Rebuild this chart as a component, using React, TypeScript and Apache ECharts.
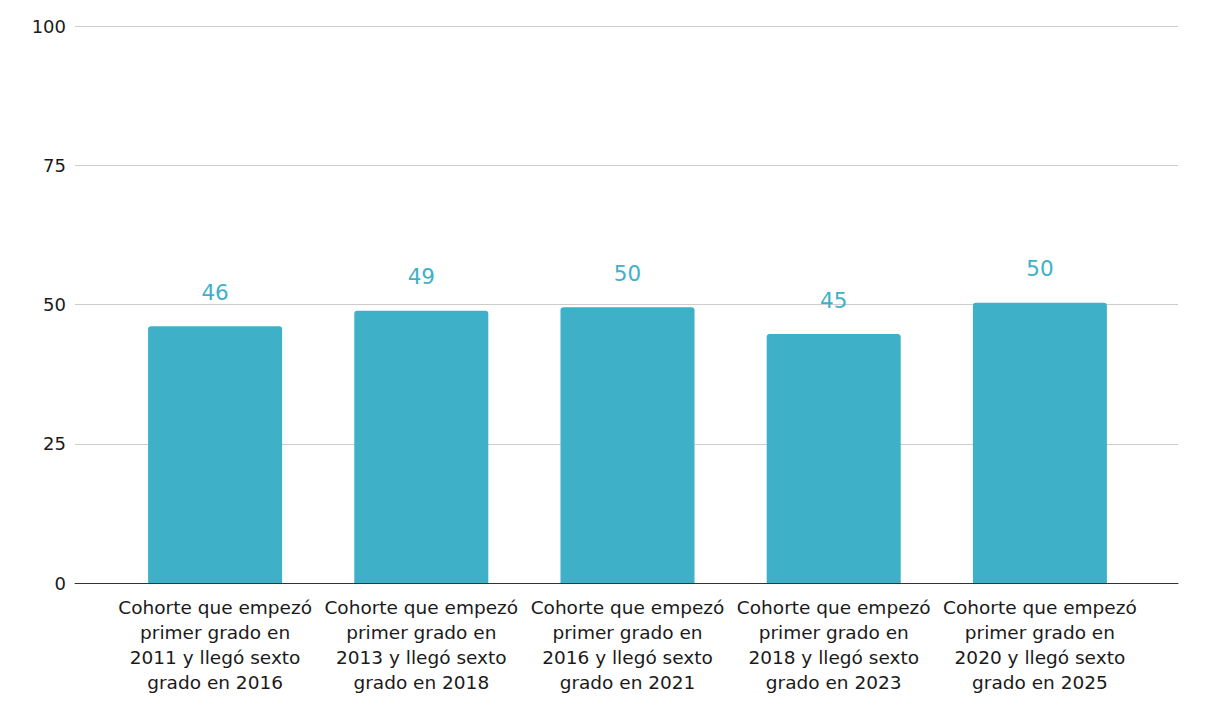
import React, { useEffect, useRef } from "react";
import * as echarts from "echarts";

const categories = [
  "Cohorte que empezó\nprimer grado en\n2011 y llegó sexto\ngrado en 2016",
  "Cohorte que empezó\nprimer grado en\n2013 y llegó sexto\ngrado en 2018",
  "Cohorte que empezó\nprimer grado en\n2016 y llegó sexto\ngrado en 2021",
  "Cohorte que empezó\nprimer grado en\n2018 y llegó sexto\ngrado en 2023",
  "Cohorte que empezó\nprimer grado en\n2020 y llegó sexto\ngrado en 2025",
];
const values = [46.1, 48.9, 49.5, 44.7, 50.3];
const yTicks = { min: 0, max: 100, interval: 25 };

const FONT = "'DejaVu Sans', Verdana, sans-serif";

export default function App() {
  const ref = useRef<HTMLDivElement>(null);
  useEffect(() => {
    if (!ref.current) return;
    const chart = echarts.init(ref.current, undefined, { renderer: "svg" });
    chart.setOption({
      animation: false,
      backgroundColor: "#ffffff",
      grid: [
        { left: 75, right: 45, top: 26, bottom: 137, containLabel: false },
        { left: 112, right: 80, top: 26, bottom: 137, containLabel: false },
      ],
      xAxis: [
        {
          type: "category",
          gridIndex: 0,
          data: categories,
          axisLine: { show: true, lineStyle: { color: "#333333", width: 1 } },
          axisTick: { show: false },
          axisLabel: { show: false },
          z: 5,
        },
        {
          type: "category",
          gridIndex: 1,
          data: categories,
          axisLine: { show: false },
          axisTick: { show: false },
          axisLabel: {
            interval: 0,
            color: "#1a1a1a",
            fontFamily: FONT,
            fontSize: 18.5,
            lineHeight: 25,
            margin: 12,
          },
        },
      ],
      yAxis: [
        {
          type: "value",
          gridIndex: 0,
          ...yTicks,
          axisLine: { show: false },
          axisTick: { show: false },
          splitLine: { lineStyle: { color: "#cccccc", width: 1 } },
          axisLabel: {
            color: "#1a1a1a",
            fontFamily: FONT,
            fontSize: 18,
            margin: 9,
          },
        },
        {
          type: "value",
          gridIndex: 1,
          ...yTicks,
          show: false,
          splitLine: { show: false },
        },
      ],
      series: [
        {
          type: "bar",
          xAxisIndex: 1,
          yAxisIndex: 1,
          data: values,
          barWidth: "65%",
          itemStyle: { color: "#3eb1c8", borderRadius: [3, 3, 0, 0] },
          label: {
            show: true,
            position: "top",
            distance: 23,
            color: "#3eb1c8",
            fontFamily: FONT,
            fontSize: 21.5,
            formatter: (p: any) => Math.round(p.value).toString(),
          },
        },
      ],
    });
    return () => chart.dispose();
  }, []);
  return (
    <div
      ref={ref}
      style={{ position: "fixed", left: 0, top: 0, width: 1223, height: 720 }}
    />
  );
}
